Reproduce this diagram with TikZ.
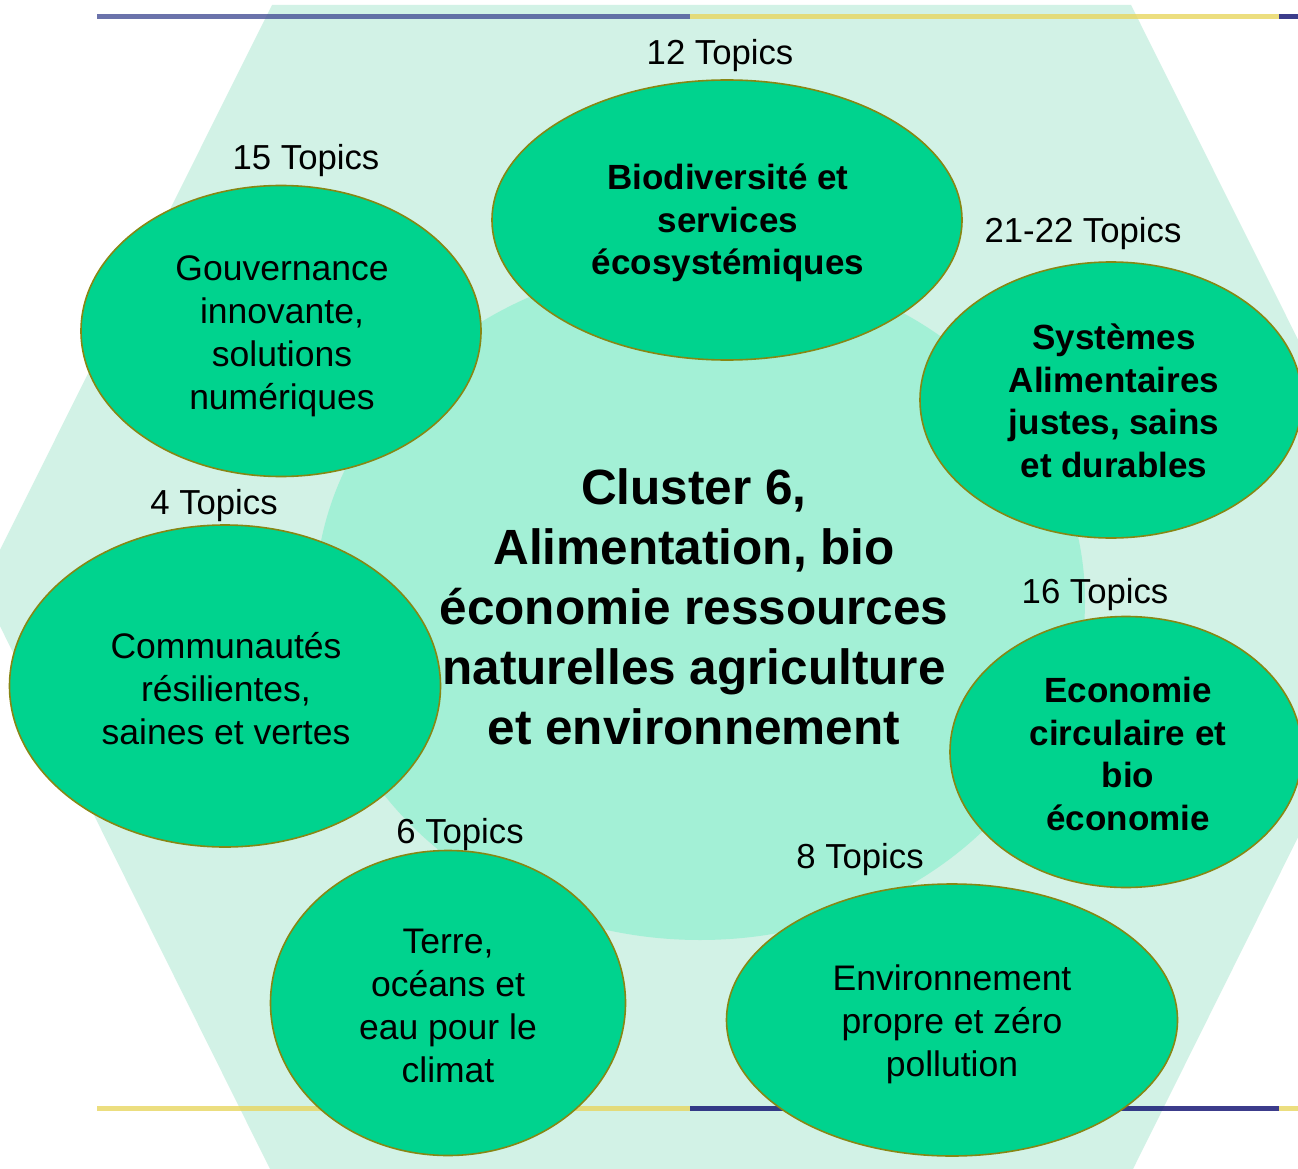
\documentclass[tikz,border=0pt]{standalone}
\usepackage{fontspec}
\setmainfont{Liberation Sans}
\usetikzlibrary{shapes.geometric}
\definecolor{hexfill}{RGB}{210,242,230}
\definecolor{corefill}{RGB}{163,240,214}
\definecolor{ellfill}{RGB}{0,211,142}
\definecolor{ellline}{RGB}{135,135,20}
\definecolor{navyA}{RGB}{70,80,150}
\definecolor{navyB}{RGB}{12,12,110}
\definecolor{yel}{RGB}{232,214,96}
\tikzset{
  topic/.style={ellipse, fill=ellfill, draw=ellline, line width=1.6pt, inner sep=0pt},
  reg/.style={font=\fontsize{35.5}{43}\selectfont, align=center, inner sep=0pt},
  bld/.style={font=\fontsize{35}{42.5}\selectfont\bfseries, align=center, inner sep=0pt},
  count/.style={font=\fontsize{34.7}{40}\selectfont, inner sep=0pt},
  band/.style={line width=5pt, opacity=0.8}
}
\begin{document}
\begin{tikzpicture}[x=1pt,y=-1pt]
\useasboundingbox (0,0) rectangle (1298,1169);
\clip (0,0) rectangle (1298,1169);
\fill[white] (0,0) rectangle (1298,1169);
% hexagon
\fill[hexfill] (272,5) -- (1131,5) -- (1422,588) -- (1132,1171) -- (271,1171) -- (-19,588) -- cycle;
% bands
\draw[band, navyA] (97,17) -- (690,17);
\draw[band, yel] (690,17) -- (1279,17);
\draw[band, navyB] (1279,17) -- (1298,17);
\draw[band, yel] (97,1108) -- (690,1108);
\draw[band, navyB] (690,1108) -- (1279,1108);
\draw[band, yel] (1279,1108) -- (1298,1108);
% core
\node[ellipse, fill=corefill, minimum width=770pt, minimum height=678pt, inner sep=0pt] (core) at (700,601) {};
\node[font=\fontsize{49.5}{60}\selectfont\bfseries, align=center, inner sep=0pt] (title) at (694,607)
  {Cluster 6,\\Alimentation, bio\\économie ressources\\naturelles agriculture\\et environnement};
% topic ellipses
\node[topic, minimum width=470pt, minimum height=280pt] (bio) at (727,220) {};
\node[bld] (biotxt) at (728,223) {Biodiversité et\\services\\écosystémiques};
\node[topic, minimum width=400pt, minimum height=291pt] (gov) at (281,331) {};
\node[reg] (govtxt) at (282,336) {Gouvernance\\innovante,\\solutions\\numériques};
\node[topic, minimum width=382pt, minimum height=276pt] (sys) at (1111,400) {};
\node[bld] (systxt) at (1114,401) {Systèmes\\Alimentaires\\justes, sains\\et durables};
\node[topic, minimum width=431pt, minimum height=322pt] (com) at (225,686) {};
\node[reg] (comtxt) at (226,689) {Communautés\\résilientes,\\saines et vertes};
\node[topic, minimum width=352pt, minimum height=271pt] (eco) at (1126,752) {};
\node[bld] (ecotxt) at (1128,754) {Economie\\circulaire et\\bio\\économie};
\node[topic, minimum width=355pt, minimum height=305pt] (ter) at (448,1003) {};
\node[reg] (tertxt) at (448,1006) {Terre,\\océans et\\eau pour le\\climat};
\node[topic, minimum width=451pt, minimum height=272pt] (env) at (952,1020) {};
\node[reg] (envtxt) at (952,1024) {Environnement\\propre et zéro\\pollution};
% counts
\node[count] (c12) at (720,56) {12 Topics};
\node[count] (c15) at (306,161) {15 Topics};
\node[count] (c21) at (1083,234) {21-22 Topics};
\node[count] (c4) at (214,506) {4 Topics};
\node[count] (c16) at (1095,595) {16 Topics};
\node[count] (c6) at (460,835) {6 Topics};
\node[count] (c8) at (860,860) {8 Topics};
\end{tikzpicture}
\end{document}
